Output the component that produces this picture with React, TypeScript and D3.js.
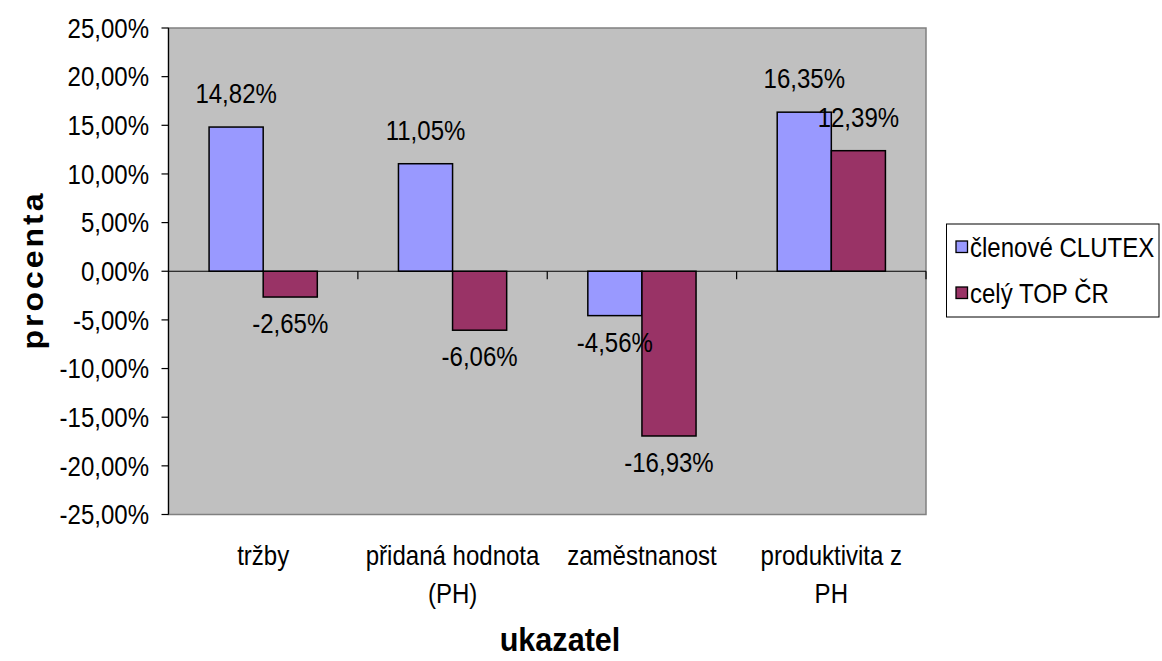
import * as d3 from 'd3'
import type { ReactNode } from 'react'

const categories = ['tržby', 'přidaná hodnota (PH)', 'zaměstnanost', 'produktivita z PH']
const categoryLines = [['tržby'], ['přidaná hodnota', '(PH)'], ['zaměstnanost'], ['produktivita z', 'PH']]
const seriesNames = ['členové CLUTEX', 'celý TOP ČR']
const clutex = [14.82, 11.05, -4.56, 16.35]
const topCr = [-2.65, -6.06, -16.93, 12.39]
const yTicks = [-25, -20, -15, -10, -5, 0, 5, 10, 15, 20, 25]
const colors = ['#9999FF', '#993366']

const width = 1162
const height = 661
const plotLeft = 168.5
const plotRight = 926
const plotTop = 28
const plotBottom = 514.5
const font = '"Liberation Sans", Arial, sans-serif'

const fmt = (v: number) => v.toFixed(2).replace('.', ',') + '%'

// text in the original is a bit taller than wide, so squeeze it horizontally
const Txt = ({ x, y, anchor = 'start', size = 27, dy, children }:
  { x: number, y: number, anchor?: string, size?: number, dy?: string, children: ReactNode }) => (
  <text transform={`translate(${x},${y}) scale(0.89,1)`} textAnchor={anchor} fontSize={size} dy={dy}>{children}</text>
)

const App = () => {
  const x = d3.scaleBand<string>().domain(categories).range([plotLeft, plotRight]).padding(0)
  const y = d3.scaleLinear().domain([-25, 25]).range([plotBottom, plotTop])
  const bw = x.bandwidth()
  const barW = bw / 3.5 // Excel gap width 150%
  const x1 = d3.scaleBand<number>().domain([0, 1]).range([barW * 0.75, barW * 2.75])
  const series = [clutex, topCr]
  const y0 = y(0)

  return (
    <svg width={width} height={height} style={{ position: 'absolute', left: 0, top: 0, fontFamily: font }}>
      <rect x={0} y={0} width={width} height={height} fill="#fff" />
      <rect x={plotLeft} y={plotTop} width={plotRight - plotLeft} height={plotBottom - plotTop}
        fill="#C0C0C0" stroke="#808080" strokeWidth={1.5} />

      {/* y axis */}
      <line x1={plotLeft} x2={plotLeft} y1={plotTop} y2={plotBottom} stroke="#000" strokeWidth={1.2} />
      {yTicks.map(t => (
        <g key={t}>
          <line x1={plotLeft - 7} x2={plotLeft} y1={y(t)} y2={y(t)} stroke="#000" strokeWidth={1.2} />
          <Txt x={149} y={y(t)} dy="0.36em" anchor="end">{fmt(t)}</Txt>
        </g>
      ))}

      {/* bars */}
      {series.map((vals, s) => vals.map((v, i) => {
        const bx = (x(categories[i]) as number) + (x1(s) as number)
        const top = Math.min(y(v), y0)
        return (
          <rect key={`${s}-${i}`} x={bx} y={top} width={x1.bandwidth()} height={Math.abs(y(v) - y0)}
            fill={colors[s]} stroke="#000" strokeWidth={1.5} />
        )
      }))}

      {/* category axis at zero */}
      <line x1={plotLeft} x2={plotRight} y1={y0} y2={y0} stroke="#000" strokeWidth={1.2} />
      {categories.map((c) => {
        const bx = (x(c) as number) + bw
        return <line key={c} x1={bx} x2={bx} y1={y0} y2={y0 + 8} stroke="#000" strokeWidth={1.2} />
      })}

      {/* data labels */}
      {series.map((vals, s) => vals.map((v, i) => {
        const cx = (x(categories[i]) as number) + (x1(s) as number) + x1.bandwidth() / 2
        const ly = v >= 0 ? y(v) - 24 : y(v) + 36
        return <Txt key={`l${s}-${i}`} x={cx} y={ly} anchor="middle">{fmt(v)}</Txt>
      }))}

      {/* category labels */}
      {categoryLines.map((lines, i) => (
        <Txt key={i} x={(x(categories[i]) as number) + bw / 2} y={565} anchor="middle">
          {lines.map((l, j) => <tspan key={j} x={0} dy={j === 0 ? 0 : 38}>{l}</tspan>)}
        </Txt>
      ))}

      {/* axis titles */}
      <text transform="translate(43,270) rotate(-90) scale(1,0.9)" textAnchor="middle" fontSize={32} fontWeight="bold" letterSpacing={3}>procenta</text>
      <text transform="translate(560,651) scale(0.9,1)" textAnchor="middle" fontSize={34} fontWeight="bold">ukazatel</text>

      {/* legend */}
      <rect x={946.5} y={224} width={212.5} height={93} fill="#fff" stroke="#000" strokeWidth={1} />
      {seriesNames.map((n, s) => (
        <g key={n} transform={`translate(956,${241 + s * 46})`}>
          <rect x={0} y={0} width={11.5} height={11.5} fill={colors[s]} stroke="#000" strokeWidth={1.3} />
          <Txt x={14} y={15.5}>{n}</Txt>
        </g>
      ))}
    </svg>
  )
}

export default App
